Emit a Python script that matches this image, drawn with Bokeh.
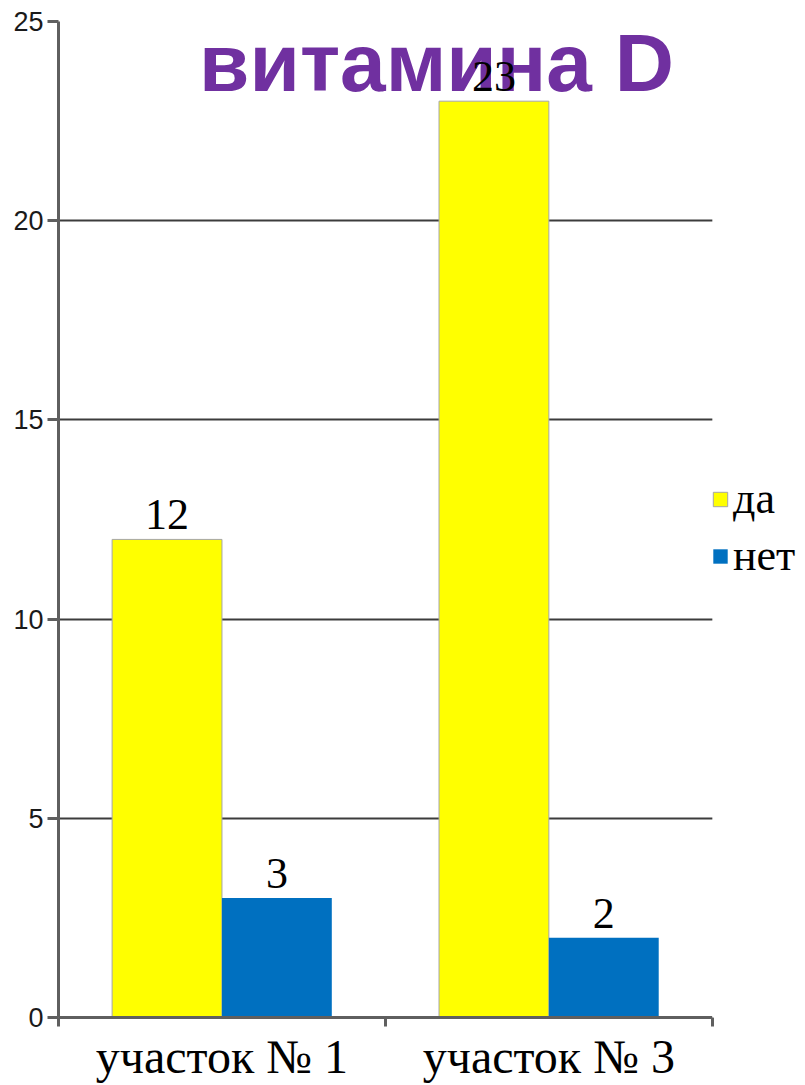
import numpy as np
from bokeh.plotting import figure
from bokeh.models import (ColumnDataSource, Range1d, FixedTicker, Legend,
                          LegendItem, LabelSet, Label, BoxAnnotation)
from bokeh.core.properties import value
from bokeh.transform import dodge
from bokeh.embed import file_html
from bokeh.resources import INLINE

# --- data ---
categories = ["участок № 1", "участок № 3"]
series_names = ["да", "нет"]
yes_counts = [12, 23]
no_counts = [3, 2]
y_ticks = [0, 5, 10, 15, 20, 25]
title_text = "витамина D"

YELLOW = "#FFFF00"
BLUE = "#0070C0"
AXIS_GRAY = "#5f5f5f"
GRID_GRAY = "#3c3c3c"
PURPLE = "#7030A0"

n = len(categories)
pos = np.arange(n) + 0.5          # category centres on a numeric axis
bar_w = 0.336
legend_room = 0.285               # extra x-room (in categories) for the legend

src = ColumnDataSource(dict(
    pos=pos,
    yes=yes_counts,
    no=no_counts,
    yes_lbl=[str(v) for v in yes_counts],
    no_lbl=[str(v) for v in no_counts],
))

p = figure(width=805, height=1085,
           x_range=Range1d(0, n + legend_room), y_range=Range1d(0, max(y_ticks)),
           output_backend="svg", toolbar_location=None,
           min_border_left=58, min_border_right=0,
           min_border_top=21, min_border_bottom=66)
p.outline_line_color = None
p.background_fill_color = "white"
p.border_fill_color = "white"

# x axis: labels at category centres, tick marks at category boundaries
p.xaxis.bounds = (0, n)
p.xaxis.ticker = FixedTicker(ticks=list(pos), minor_ticks=list(range(n + 1)))
p.xaxis.major_label_overrides = {float(x): c for x, c in zip(pos, categories)}
p.xaxis.major_tick_out = 0
p.xaxis.major_tick_in = 0
p.xaxis.minor_tick_out = 9
p.xaxis.minor_tick_in = 0
p.xaxis.minor_tick_line_color = AXIS_GRAY
p.xaxis.minor_tick_line_width = 3
p.xaxis.axis_line_color = AXIS_GRAY
p.xaxis.axis_line_width = 3
p.xaxis.major_label_text_font = "Liberation Serif"
p.xaxis.major_label_text_font_size = "48px"
p.xaxis.major_label_text_color = "black"
p.xaxis.major_label_standoff = 3

# y axis
p.yaxis.ticker = FixedTicker(ticks=y_ticks, minor_ticks=[])
p.yaxis.major_tick_out = 11
p.yaxis.major_tick_in = 0
p.yaxis.major_tick_line_color = AXIS_GRAY
p.yaxis.major_tick_line_width = 3
p.yaxis.axis_line_color = AXIS_GRAY
p.yaxis.axis_line_width = 3
p.yaxis.major_label_text_font = "Liberation Sans"
p.yaxis.major_label_text_font_size = "27px"
p.yaxis.major_label_text_color = "#1a1a1a"
p.yaxis.major_label_standoff = 4

p.xgrid.visible = False
p.ygrid.ticker = FixedTicker(ticks=y_ticks)
p.ygrid.grid_line_color = GRID_GRAY
p.ygrid.grid_line_width = 2

# blank strip to the right of the plot area, where the legend sits
p.add_layout(BoxAnnotation(left=n, fill_color="white", fill_alpha=1,
                           line_color=None))

# bars
r_yes = p.vbar(x=dodge("pos", -bar_w / 2), top="yes", width=bar_w, bottom=0,
               source=src, fill_color=YELLOW, line_color="#A6A6A6", line_width=1)
r_no = p.vbar(x=dodge("pos", bar_w / 2), top="no", width=bar_w, bottom=0,
              source=src, fill_color=BLUE, line_color=None)

# heading (drawn before value labels so the labels sit on top)
title = Label(x=378, y=955, x_units="screen", y_units="screen",
              text=title_text, text_align="center", text_baseline="alphabetic",
              text_font="Liberation Sans", text_font_style="bold",
              text_font_size="82px", text_color=PURPLE)
p.add_layout(title)

label_style = dict(text_align="center", text_baseline="alphabetic",
                   text_font=value("Liberation Serif"), text_font_size="44px",
                   text_color="black", y_offset=10)
p.add_layout(LabelSet(x=dodge("pos", -bar_w / 2), y="yes", text="yes_lbl",
                      source=src, **label_style))
p.add_layout(LabelSet(x=dodge("pos", bar_w / 2), y="no", text="no_lbl",
                      source=src, **label_style))

legend = Legend(items=[LegendItem(label=series_names[0], renderers=[r_yes]),
                       LegendItem(label=series_names[1], renderers=[r_no])],
                location=(653, 436), orientation="vertical",
                padding=0, margin=0, spacing=6,
                glyph_width=18, glyph_height=18, label_height=49,
                label_standoff=4,
                label_text_font="Liberation Serif", label_text_font_size="44px",
                label_text_color="black",
                border_line_alpha=0, background_fill_alpha=0)
p.add_layout(legend)

open("out.html", "w").write(file_html(p, INLINE))
